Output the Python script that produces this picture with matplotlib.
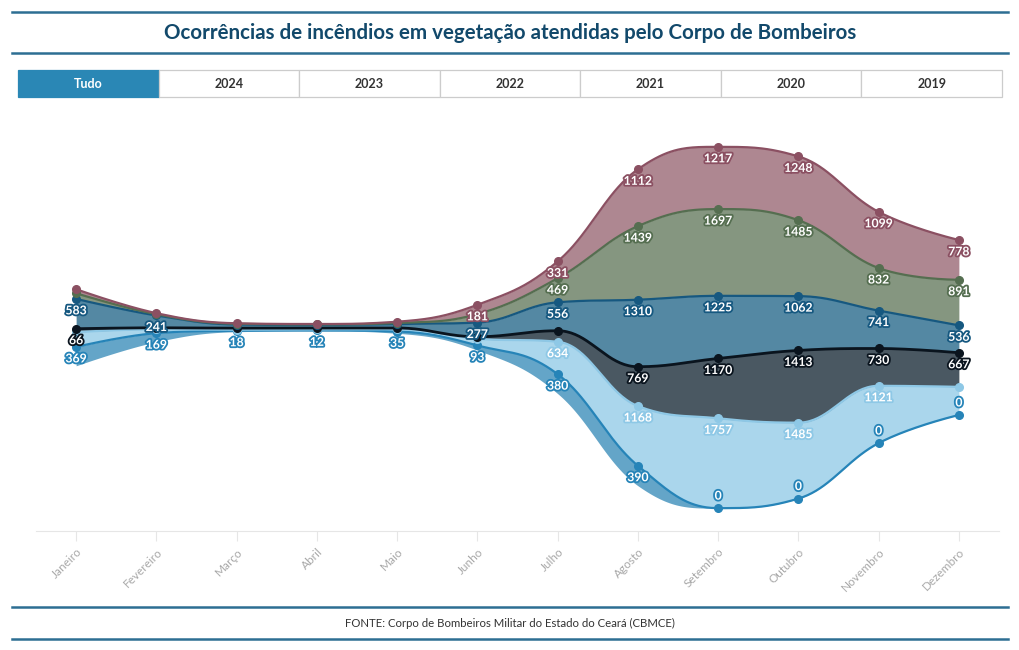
import matplotlib
matplotlib.use("Agg")
import matplotlib.pyplot as plt
import matplotlib.patheffects as pe
from matplotlib.patches import Rectangle
from matplotlib.lines import Line2D
import numpy as np

plt.rcParams['font.family'] = ['Lato', 'DejaVu Sans']

# Dados
meses = ["Janeiro", "Fevereiro", "Março", "Abril", "Maio", "Junho", "Julho",
         "Agosto", "Setembro", "Outubro", "Novembro", "Dezembro"]
botoes = ["Tudo", "2024", "2023", "2022", "2021", "2020", "2019"]

# séries de baixo para cima na pilha
anos = ["2024", "2023", "2022", "2021", "2020", "2019"]
v2024 = [369, 169, 18, 12, 35, 93, 380, 390, 0, 0, 0, 0]
v2023 = [290, 75, 22, 20, 44, 130, 634, 1168, 1757, 1485, 1121, 550]
v2022 = [66, 30, 30, 25, 25, 40, 215, 769, 1170, 1413, 730, 667]
v2021 = [583, 241, 70, 60, 78, 277, 556, 1310, 1225, 1062, 741, 536]
v2020 = [110, 25, 15, 12, 20, 166, 469, 1439, 1697, 1485, 832, 891]
v2019 = [80, 20, 10, 8, 25, 181, 331, 1112, 1217, 1248, 1099, 778]

cor_area = ["#64A5C8", "#AAD6EC", "#4A5862", "#5488A3", "#859680", "#AE8791"]
cor_linha = ["#2684B8", "#8EC8E6", "#0A141E", "#165880", "#556E50", "#8B5062"]
cor_rotulo = ["#2684B8", "#8EC8E6", "#0A141E", "#165880", "#556E50", "#8B5062"]


def spline(x, y, n=40):
    # curva "spline" no estilo Highcharts (bezier com suavização 1.5)
    N = len(x)
    left = [None] * N
    right = [None] * N
    for i in range(1, N - 1):
        lx = (1.5 * x[i] + x[i - 1]) / 2.5
        ly = (1.5 * y[i] + y[i - 1]) / 2.5
        rx = (1.5 * x[i] + x[i + 1]) / 2.5
        ry = (1.5 * y[i] + y[i + 1]) / 2.5
        corr = (ry - ly) * (rx - x[i]) / (rx - lx) + y[i] - ry
        ly += corr
        ry += corr
        if ly > y[i - 1] and ly > y[i]:
            ly = max(y[i - 1], y[i]); ry = 2 * y[i] - ly
        elif ly < y[i - 1] and ly < y[i]:
            ly = min(y[i - 1], y[i]); ry = 2 * y[i] - ly
        if ry > y[i + 1] and ry > y[i]:
            ry = max(y[i + 1], y[i]); ly = 2 * y[i] - ry
        elif ry < y[i + 1] and ry < y[i]:
            ry = min(y[i + 1], y[i]); ly = 2 * y[i] - ry
        left[i] = (lx, ly)
        right[i] = (rx, ry)
    xs, ys = [], []
    t = np.linspace(0, 1, n, endpoint=False)
    for i in range(1, N):
        p0 = (x[i - 1], y[i - 1])
        p3 = (x[i], y[i])
        p1 = right[i - 1] or p0
        p2 = left[i] or p3
        a = (1 - t) ** 3; b = 3 * (1 - t) ** 2 * t; c = 3 * (1 - t) * t ** 2; d = t ** 3
        xs.append(a * p0[0] + b * p1[0] + c * p2[0] + d * p3[0])
        ys.append(a * p0[1] + b * p1[1] + c * p2[1] + d * p3[1])
    xs.append([x[-1]]); ys.append([y[-1]])
    return np.concatenate(xs), np.concatenate(ys)


W, H = 1020, 650
fig = plt.figure(figsize=(W / 100, H / 100), dpi=100)

ax_bottom, ax_top = 531, 124
ax = fig.add_axes([36 / W, 1 - ax_bottom / H, 963 / W, (ax_bottom - ax_top) / H])
R = 3980
ax.set_xlim(-0.5, 11.5)
ax.set_ylim(-R, R)
ppu = (ax_bottom - ax_top) / (2 * R)

vals = np.array([v2024, v2023, v2022, v2021, v2020, v2019], dtype=float)
x = np.arange(len(meses), dtype=float)
base = -vals.sum(axis=0) / 2
tops = base + np.cumsum(vals, axis=0)
bottoms = np.vstack([base, tops[:-1]])

for k in range(len(anos)):
    xs, yt = spline(x, tops[k])
    _, yb = spline(x, bottoms[k])
    ax.fill_between(xs, yb, yt, color=cor_area[k], lw=0, zorder=1 + k * 0.01)
for k in range(len(anos)):
    xs, yt = spline(x, tops[k])
    lw = 2.0 if k == 2 else 1.6
    ax.plot(xs, yt, color=cor_linha[k], lw=lw, zorder=3, solid_capstyle='round')
    ax.plot(x, tops[k], 'o', color=cor_linha[k], ms=5.5, zorder=4)

# rótulos: esconder os que se sobrepõem (ordem das séries)
off = 12
for j in range(len(meses)):
    shown = []
    for k in range(len(anos)):
        v = vals[k, j]
        dy = off if v == 0 else -off
        ypx = tops[k, j] * ppu + dy
        if any(abs(ypx - s) < 16 for s in shown):
            continue
        shown.append(ypx)
        ax.annotate(f"{int(v)}", (x[j], tops[k, j]), xytext=(0, dy * 0.72),
                    textcoords='offset points', ha='center', va='center',
                    fontsize=8.8, fontweight='bold', color='white', zorder=6,
                    path_effects=[pe.withStroke(linewidth=2.6, foreground=cor_rotulo[k])])

ax.set_xticks(x)
ax.set_xticklabels(meses, rotation=45, ha='right', rotation_mode='anchor',
                   color='#A8A8A8', fontsize=8.5)
ax.tick_params(axis='x', length=7, color='#E6E6E6', pad=4)
ax.set_yticks([])
for s in ['top', 'left', 'right']:
    ax.spines[s].set_visible(False)
ax.spines['bottom'].set_color('#E6E6E6')

# título e linhas
azul = '#2D6E93'
for yy in [12, 53, 607, 639]:
    fig.add_artist(Line2D([12 / W, 1008 / W], [1 - yy / H, 1 - yy / H],
                          transform=fig.transFigure, color=azul, lw=1.8))
fig.text(0.5, 1 - 33 / H, "Ocorrências de incêndios em vegetação atendidas pelo Corpo de Bombeiros",
         ha='center', va='center', fontsize=14.8, fontweight='bold', color='#12496B')
fig.text(0.5, 1 - 623 / H, "FONTE: Corpo de Bombeiros Militar do Estado do Ceará (CBMCE)",
         ha='center', va='center', fontsize=8.2, color='#333333')

# botões
bx0, bx1, by0, by1 = 18, 1002, 70, 97
bw = (bx1 - bx0) / len(botoes)
for i, b in enumerate(botoes):
    ativo = i == 0
    fig.add_artist(Rectangle(((bx0 + i * bw) / W, 1 - by1 / H), bw / W, (by1 - by0) / H,
                             transform=fig.transFigure,
                             facecolor='#2A87B5' if ativo else 'white',
                             edgecolor='#2A87B5' if ativo else '#CCCCCC', lw=0.9))
    fig.text((bx0 + (i + 0.5) * bw) / W, 1 - (by0 + by1) / 2 / H, b, ha='center', va='center',
             fontsize=9, fontweight='bold', color='white' if ativo else '#333333')

fig.savefig("out.png", dpi=100)
